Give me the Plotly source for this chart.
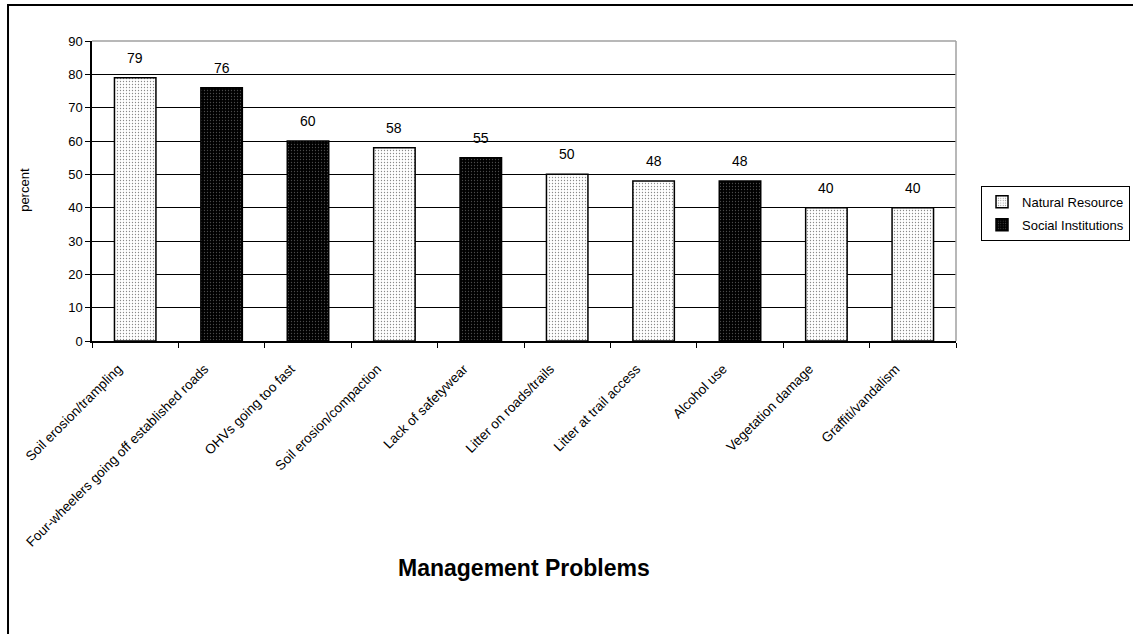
import plotly.graph_objects as go

categories = ["Soil erosion/trampling", "Four-wheelers going off established roads",
              "OHVs going too fast", "Soil erosion/compaction", "Lack of safetywear",
              "Litter on roads/trails", "Litter at trail access", "Alcohol use",
              "Vegetation damage", "Graffiti/vandalism"]
values = [79, 76, 60, 58, 55, 50, 48, 48, 40, 40]
groups = ["Natural Resource", "Social Institutions", "Social Institutions", "Natural Resource",
          "Social Institutions", "Natural Resource", "Natural Resource", "Social Institutions",
          "Natural Resource", "Natural Resource"]
series_names = ["Natural Resource", "Social Institutions"]
y_ticks = [0, 10, 20, 30, 40, 50, 60, 70, 80, 90]

FONT = "Liberation Sans, Arial, sans-serif"
styles = {
    "Natural Resource": dict(color="#f2f2f2", pattern=dict(shape=".", bgcolor="#ffffff", fgcolor="#8a8a8a", size=3, solidity=0.15, fillmode="replace")),
    "Social Institutions": dict(color="#000000", pattern=dict(shape=".", bgcolor="#000000", fgcolor="#4a4a4a", size=3, solidity=0.15, fillmode="replace")),
}

fig = go.Figure()
for name in series_names:
    xs = [c for c, g in zip(categories, groups) if g == name]
    ys = [v for v, g in zip(values, groups) if g == name]
    st = styles[name]
    fig.add_trace(go.Bar(
        x=xs, y=ys, name=name, width=0.48, legendgroup=name,
        marker=dict(color=st["color"], pattern=st["pattern"],
                    line=dict(color="black", width=1.5)),
    ))

for c, v in zip(categories, values):
    fig.add_annotation(x=c, y=v, text=str(v), showarrow=False, yshift=20,
                       xanchor="center", yanchor="middle",
                       font=dict(family=FONT, size=14, color="black"))

# axis titles as annotations
fig.add_annotation(xref="paper", yref="paper", x=0.5, y=-0.757, text="<b>Management Problems</b>",
                   xanchor="center", yanchor="middle",
                   showarrow=False, font=dict(family=FONT, size=23, color="black"))
fig.add_annotation(xref="paper", yref="paper", x=-0.079, y=0.503, text="percent", textangle=-90,
                   xanchor="center", yanchor="middle",
                   showarrow=False, font=dict(family=FONT, size=13, color="black"))

# plot-area top/right gray border
fig.add_shape(type="line", xref="paper", yref="paper", x0=0, x1=1, y0=1, y1=1,
              line=dict(color="#a0a0a0", width=1.5), layer="above")
fig.add_shape(type="line", xref="paper", yref="paper", x0=1, x1=1, y0=0, y1=1,
              line=dict(color="#a0a0a0", width=1.5), layer="above")
# outer chart border (extends past right and bottom edges of the page)
fig.add_shape(type="rect", xref="paper", yref="paper", x0=-0.0972, x1=1.35, y0=-1.1, y1=1.12,
              line=dict(color="black", width=2), layer="above")

fig.update_layout(
    width=1133, height=634,
    margin=dict(l=92, r=177, t=41, b=293, autoexpand=False),
    paper_bgcolor="white", plot_bgcolor="white",
    barmode="overlay",
    font=dict(family=FONT, size=13, color="black"),
    showlegend=True,
    legend=dict(x=1.2014, y=0.517, xanchor="right", yanchor="top",
                bordercolor="black", borderwidth=1, bgcolor="white",
                font=dict(family=FONT, size=13, color="black"),
                traceorder="grouped", tracegroupgap=3, itemwidth=30),
    xaxis=dict(categoryorder="array", categoryarray=categories, tickangle=-45,
               ticks="outside", tickson="boundaries", ticklen=5, tickcolor="black",
               showline=True, linecolor="black", linewidth=1.5, showgrid=False,
               tickfont=dict(family=FONT, size=13.5, color="black"),
               ticklabelstandoff=13, ticklabelshift=-17,
               range=[-0.5, 9.5]),
    yaxis=dict(range=[0, 90], tickvals=y_ticks, ticks="outside", ticklen=5, tickcolor="black",
               showline=True, linecolor="black", linewidth=1.5,
               showgrid=True, gridcolor="black", gridwidth=1, zeroline=False,
               tickfont=dict(family=FONT, size=13, color="black")),
)

fig.write_html("out.html")
